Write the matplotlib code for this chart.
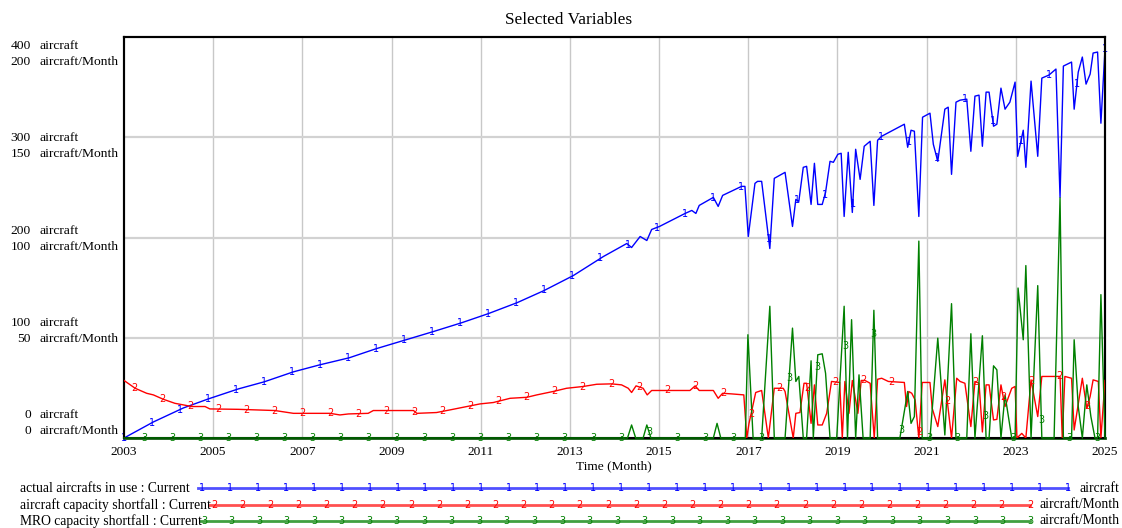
import numpy as np
import matplotlib
matplotlib.use("Agg")
import matplotlib.pyplot as plt

# ---- data (time in months since Jan 2003) ----
years = list(range(2003, 2026, 2))

use_t = [0, 7.9, 16, 22.7, 30.8, 37.7, 45.6, 52.7, 60.6, 67.8, 75.9, 83.1, 90.9, 98,
         105.8, 113, 120.9, 129, 135.3, 136.6, 138.9, 140.7, 142, 144.1, 151, 152.8,
         153.9, 154.8, 158.6, 159.9, 161.1, 166.2, 167.1, 168, 169.8, 170.5, 171.6,
         173.8, 175, 177.9, 179.9, 180.8, 181.6, 182.8, 183.7, 184.9, 185.8, 186.7,
         187.9, 188.8, 190, 190.9, 192.1, 193, 193.8, 194.9, 196, 196.9, 198.1, 199.2,
         200.8, 201.8, 202.8, 203.9, 210, 210.9, 211.8, 212.7, 213.9, 214.9, 216.9,
         217.8, 219, 220.9, 221.8, 222.7, 223.9, 225, 226.8, 227.9, 229, 230.1, 231,
         232, 232.8, 234, 234.9, 236, 237.1, 238.4, 239.8, 240.5, 242, 242.7, 244.1,
         245.9, 247, 248.9, 250.8, 251.9, 252.8, 255, 255.7, 256.8, 257.9, 258.9, 260,
         260.8, 262, 262.9, 264]
use_v = [0, 16, 30, 39, 49, 56, 66, 73, 80, 89, 98, 106, 115, 124, 135, 147, 162, 181,
         194, 190, 201, 197, 208, 211, 224, 227, 224, 232, 240, 231, 242, 251, 251, 201,
         254, 256, 256, 189, 259, 265, 211, 238, 236, 270, 271, 233, 274, 233, 233, 245,
         276, 275, 283, 284, 221, 285, 225, 288, 258, 291, 296, 232, 297, 301, 313, 290,
         307, 306, 221, 320, 324, 293, 276, 328, 330, 263, 335, 337, 338, 286, 341, 342,
         291, 345, 345, 311, 313, 349, 328, 335, 355, 281, 307, 270, 356, 281, 359, 362,
         368, 240, 371, 375, 328, 365, 380, 353, 363, 384, 385, 314, 388]

acs_t = [0, 3, 6.1, 7.9, 10.6, 13.7, 16, 18.2, 21.8, 23.1, 30.8, 40.6, 45.6, 55.4, 58.1,
         60.4, 65.7, 67.1, 77.9, 78.8, 84.1, 87.7, 93.1, 95.8, 99.4, 103.9, 108.4, 111.1,
         115.5, 119.1, 123.6, 127.2, 131.2, 133.9, 135.7, 136.6, 137.8, 139.7, 140.8, 142,
         152.3, 153.7, 154.8, 158.6, 159.9, 161.1, 163.5, 166.8, 167.6, 168.2, 170, 171.6,
         173.4, 175, 177.4, 177.9, 180.1, 180.8, 181.9, 183, 183.7, 184.9, 185.8, 186.7,
         187.9, 189.1, 190.4, 192.6, 193.3, 194, 195.1, 196, 197.5, 198.4, 199.4, 200.8,
         201.9, 202.8, 203.9, 205.7, 210, 210.6, 211.2, 212, 212.9, 213.9, 214.8, 216.9,
         217.5, 219, 220.9, 222.7, 224.1, 225, 226.3, 227.9, 229, 230.1, 231, 232, 232.8,
         234, 234.9, 236, 237.1, 238.9, 239.8, 240.3, 241.6, 242.7, 244.1, 245.9, 247,
         250.3, 251.9, 252.5, 253.2, 255, 255.7, 257.9, 259.1, 260, 260.8, 262.2, 262.9, 264]
acs_v = [28.7, 24.8, 22.3, 21.5, 19.3, 17.3, 16.5, 15.7, 15.7, 14.5, 14.3, 13.7, 12.3,
         12.3, 11.5, 12, 12.3, 13.7, 13.7, 12.3, 12.7, 14, 16, 17, 17.7, 19.8, 20.3, 21.5,
         23.2, 24.8, 25.7, 26.8, 27, 26.5, 24.8, 22.7, 26, 24.8, 21.5, 23.7, 23.7, 26,
         23.7, 23.7, 19.8, 22.3, 22, 21.5, 0, 7.3, 22.7, 23.7, 0, 24.8, 24.8, 23.2, 0,
         12.3, 12.7, 27.3, 27.3, 7.3, 26.5, 6.5, 6.5, 12.3, 28.2, 27.7, 0, 28.2, 12.3,
         28.7, 12.3, 28.7, 28.7, 27.3, 0, 29.3, 29.8, 28.2, 27.7, 15.7, 23.2, 22.3, 19, 0,
         27.7, 27.7, 14.8, 5.7, 29, 0, 29.8, 28.2, 27.3, 5.7, 28.2, 27.3, 3, 26.5, 26.5, 9,
         9.3, 26.5, 15.7, 24.8, 25.7, 0, 2.3, 0, 29, 10.7, 30.7, 30.7, 30.7, 0, 30.7, 29.8,
         4, 29.8, 14.8, 20.7, 29, 28.2, 0, 28.7]

mro_t = [0, 135.5, 136.6, 137.7, 139.7, 140.7, 141.8, 158.6, 159.6, 160.6, 167.2, 167.9,
         169.3, 171.6, 173.8, 175, 177.9, 179.9, 180.8, 181.6, 182.8, 183.7, 184.9, 185.5,
         186.7, 187.9, 188.8, 190, 191.8, 193.8, 194.7, 195.8, 196.9, 197.8, 198.9, 200.8,
         201.8, 202.8, 208.8, 210.9, 211.8, 212.7, 213.9, 214.8, 216.9, 219, 220.9, 222.7,
         223.9, 226.8, 227.9, 229, 231, 232, 232.8, 234, 234.9, 236, 237.1, 238.9, 239.8,
         240.6, 242, 242.7, 244.1, 245.9, 247, 250.3, 251.9, 252.8, 255, 255.7, 256.8,
         257.9, 259.1, 260.2, 261.3, 262, 262.9, 264]
mro_v = [0, 0, 6.5, 0, 0, 6.5, 0, 0, 7.3, 0, 0, 51.5, 0, 0, 65.7, 0, 0, 54.8, 28.2, 30.7,
         0, 0, 38.5, 0, 41.5, 42, 32.3, 0, 0, 65.7, 0, 59, 0, 31.5, 0, 0, 63.7, 0, 0, 23.2,
         7.3, 10.7, 98.2, 0, 0, 49.8, 1.5, 67, 0, 0, 52, 0, 51, 0, 0, 36, 34, 0, 21.5, 0,
         0, 74.8, 49, 86, 0, 76, 0, 0, 119.8, 0, 0, 49, 15.7, 0, 26.5, 10.7, 0, 0, 71.5, 0]

names = ["actual aircrafts in use : Current",
         "aircraft capacity shortfall : Current",
         "MRO capacity shortfall : Current"]
units = ["aircraft", "aircraft/Month", "aircraft/Month"]
left_ticks_aircraft = [400, 300, 200, 100, 0]
left_ticks_rate = [200, 150, 100, 50, 0]

BLUE, RED, GREEN = "#0000ff", "#ff0000", "#008000"
SERIF = ["Liberation Serif", "DejaVu Serif"]
W, H = 1122, 528

fig = plt.figure(figsize=(W / 100, H / 100), dpi=100)
L, R, T, B = 124, 1105, 37, 438
ax = fig.add_axes([L / W, 1 - B / H, (R - L) / W, (B - T) / H])
ax2 = ax.twinx()

ax.set_xlim(0, 264)
ax.set_ylim(0, 400)
ax2.set_ylim(0, 200)

# grid
for m in range(24, 264, 24):
    ax.axvline(m, color="#c8c8c8", lw=1.0, zorder=0)
for v in (100, 200, 300):
    ax.axhline(v, color="#d2d2d2", lw=1.6, zorder=0)

ax.plot(use_t, use_v, color=BLUE, lw=1.0, zorder=3)
ax2.plot(acs_t, acs_v, color=RED, lw=1.0, zorder=3)
ax2.plot(mro_t, mro_v, color=GREEN, lw=1.0, zorder=4, clip_on=False)

# series number markers along each line
step = 264 / 35
for a, tt, vv, lab, col, off in [(ax, use_t, use_v, "1", BLUE, 0.0),
                                  (ax2, acs_t, acs_v, "2", RED, 2.8),
                                  (ax2, mro_t, mro_v, "3", GREEN, 5.5)]:
    xs = np.arange(off, 264.01, step)
    ys = np.interp(xs, tt, vv)
    for x, y in zip(xs, ys):
        a.text(x, y, lab, color=col, fontsize=7, ha="center", va="center",
               family="DejaVu Sans", zorder=5, clip_on=False)

ax.set_xticks(range(0, 265, 24))
ax.set_xticklabels([str(y) for y in years], family=SERIF, fontsize=9.6)
ax.tick_params(axis="x", length=0, pad=6)
ax.set_yticks([])
ax2.set_yticks([])
for a in (ax, ax2):
    for s in a.spines.values():
        s.set_linewidth(1.5)
        s.set_color("black")
ax.spines["bottom"].set_color("#1a5e1a")
ax.spines["bottom"].set_linewidth(2)

# overlay in pixel units for labels and legend
ov = fig.add_axes([0, 0, 1, 1], facecolor="none")
ov.set_xlim(0, W)
ov.set_ylim(H, 0)
ov.axis("off")

ov.text(569, 20, "Selected Variables", family=SERIF, fontsize=12.4,
        ha="center", va="center")
ov.text(614, 466, "Time (Month)", family=SERIF, fontsize=9.6, ha="center", va="center")

for i, (a_val, r_val) in enumerate(zip(left_ticks_aircraft, left_ticks_rate)):
    y1 = 46 + i * 92.3
    y2 = y1 + 16
    ov.text(31, y1, str(a_val), family=SERIF, fontsize=9.7, ha="right", va="center")
    ov.text(40, y1, "aircraft", family=SERIF, fontsize=9.7, ha="left", va="center")
    ov.text(31, y2, str(r_val), family=SERIF, fontsize=9.7, ha="right", va="center")
    ov.text(40, y2, "aircraft/Month", family=SERIF, fontsize=9.7, ha="left", va="center")

legend_rows = [(488, BLUE, "#5050ff", "1", 198, 1068, 1080),
               (505, RED, "#ff5050", "2", 210, 1030, 1040),
               (521, GREEN, "#40a040", "3", 200, 1030, 1040)]
for (y, col, lcol, lab, x0, x1, ux), name, unit in zip(legend_rows, names, units):
    ov.text(20, y, name, family=SERIF, fontsize=9.8, ha="left", va="center")
    ov.plot([x0, x1], [y, y], color=lcol, lw=2.0)
    n = int(round((x1 - x0) / 28))
    for xm in np.linspace(x0 + 4, x1, n + 1):
        ov.text(xm, y, lab, color=col, fontsize=7, ha="center", va="center",
                family="DejaVu Sans")
    ov.text(ux, y, unit, family=SERIF, fontsize=9.8, ha="left", va="center")

fig.savefig("out.png", dpi=100)
